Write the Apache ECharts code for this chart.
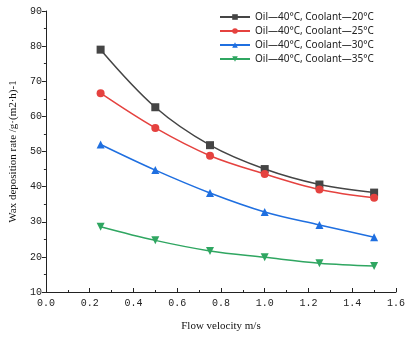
<!DOCTYPE html>
<html>
<head>
<meta charset="utf-8">
<script src="https://cdn.jsdelivr.net/npm/echarts@6/dist/echarts.min.js"></script>
<style>
  html, body { margin: 0; padding: 0; background: #fff; }
  #chart { width: 408px; height: 337px; }
</style>
</head>
<body>
<div id="chart"></div>
<script>
const velocity = [0.25, 0.5, 0.75, 1.0, 1.25, 1.5];
const seriesNames = [
  'Oil—40°C, Coolant—20°C',
  'Oil—40°C, Coolant—25°C',
  'Oil—40°C, Coolant—30°C',
  'Oil—40°C, Coolant—35°C'
];
const coolant20 = [79.0, 62.6, 51.8, 45.0, 40.6, 38.3];
const coolant25 = [66.6, 56.7, 48.8, 43.6, 39.2, 36.8];
const coolant30 = [52.0, 44.7, 38.2, 32.8, 29.1, 25.6];
const coolant35 = [28.6, 24.7, 21.7, 19.9, 18.2, 17.4];

const colors = ['#454545', '#e5423f', '#1f6fe0', '#2fa661'];
const symbols = ['rect', 'circle', 'triangle', 'triangle'];
const rotates = [0, 0, 0, 180];
const values = [coolant20, coolant25, coolant30, coolant35];

const chart = echarts.init(document.getElementById('chart'));

const series = values.map((vals, i) => ({
  name: seriesNames[i],
  type: 'line',
  smooth: 0.35,
  data: velocity.map((v, j) => [v, vals[j]]),
  symbol: symbols[i],
  symbolRotate: rotates[i],
  symbolSize: 8,
  itemStyle: { color: colors[i] },
  lineStyle: { color: colors[i], width: 1.5 }
}));

chart.setOption({
  animation: false,
  backgroundColor: '#fff',
  grid: { left: 44, right: 8, top: 11, bottom: 44 },
  legend: {
    orient: 'vertical',
    left: 214,
    top: 7,
    itemWidth: 30,
    itemHeight: 7,
    itemGap: 4,
    textStyle: { fontFamily: 'Noto Sans', fontSize: 10, color: '#222' },
    data: seriesNames
  },
  xAxis: {
    type: 'value',
    min: 0,
    max: 1.6,
    interval: 0.2,
    name: 'Flow velocity m/s',
    nameLocation: 'middle',
    nameGap: 29,
    nameTextStyle: { fontFamily: 'Liberation Serif', fontSize: 11, color: '#111' },
    axisLine: { lineStyle: { color: '#222', width: 1 } },
    axisTick: { inside: true, length: 4, lineStyle: { color: '#222' } },
    minorTick: { show: true, splitNumber: 2, length: 2, lineStyle: { color: '#222' } },
    splitLine: { show: false },
    axisLabel: {
      fontFamily: 'Liberation Mono', fontSize: 10, color: '#222', margin: 6,
      formatter: v => v.toFixed(1)
    }
  },
  yAxis: {
    type: 'value',
    min: 10,
    max: 90,
    interval: 10,
    name: 'Wax deposition rate /g·(m2·h)-1',
    nameLocation: 'middle',
    nameGap: 26,
    nameTextStyle: { fontFamily: 'Liberation Serif', fontSize: 11, color: '#111' },
    axisLine: { show: true, lineStyle: { color: '#222', width: 1 } },
    axisTick: { show: true, length: 4, lineStyle: { color: '#222' } },
    minorTick: { show: true, splitNumber: 2, length: 2, lineStyle: { color: '#222' } },
    splitLine: { show: false },
    axisLabel: { fontFamily: 'Liberation Mono', fontSize: 10, color: '#222', margin: 4 }
  },
  series: series
});
</script>
</body>
</html>
